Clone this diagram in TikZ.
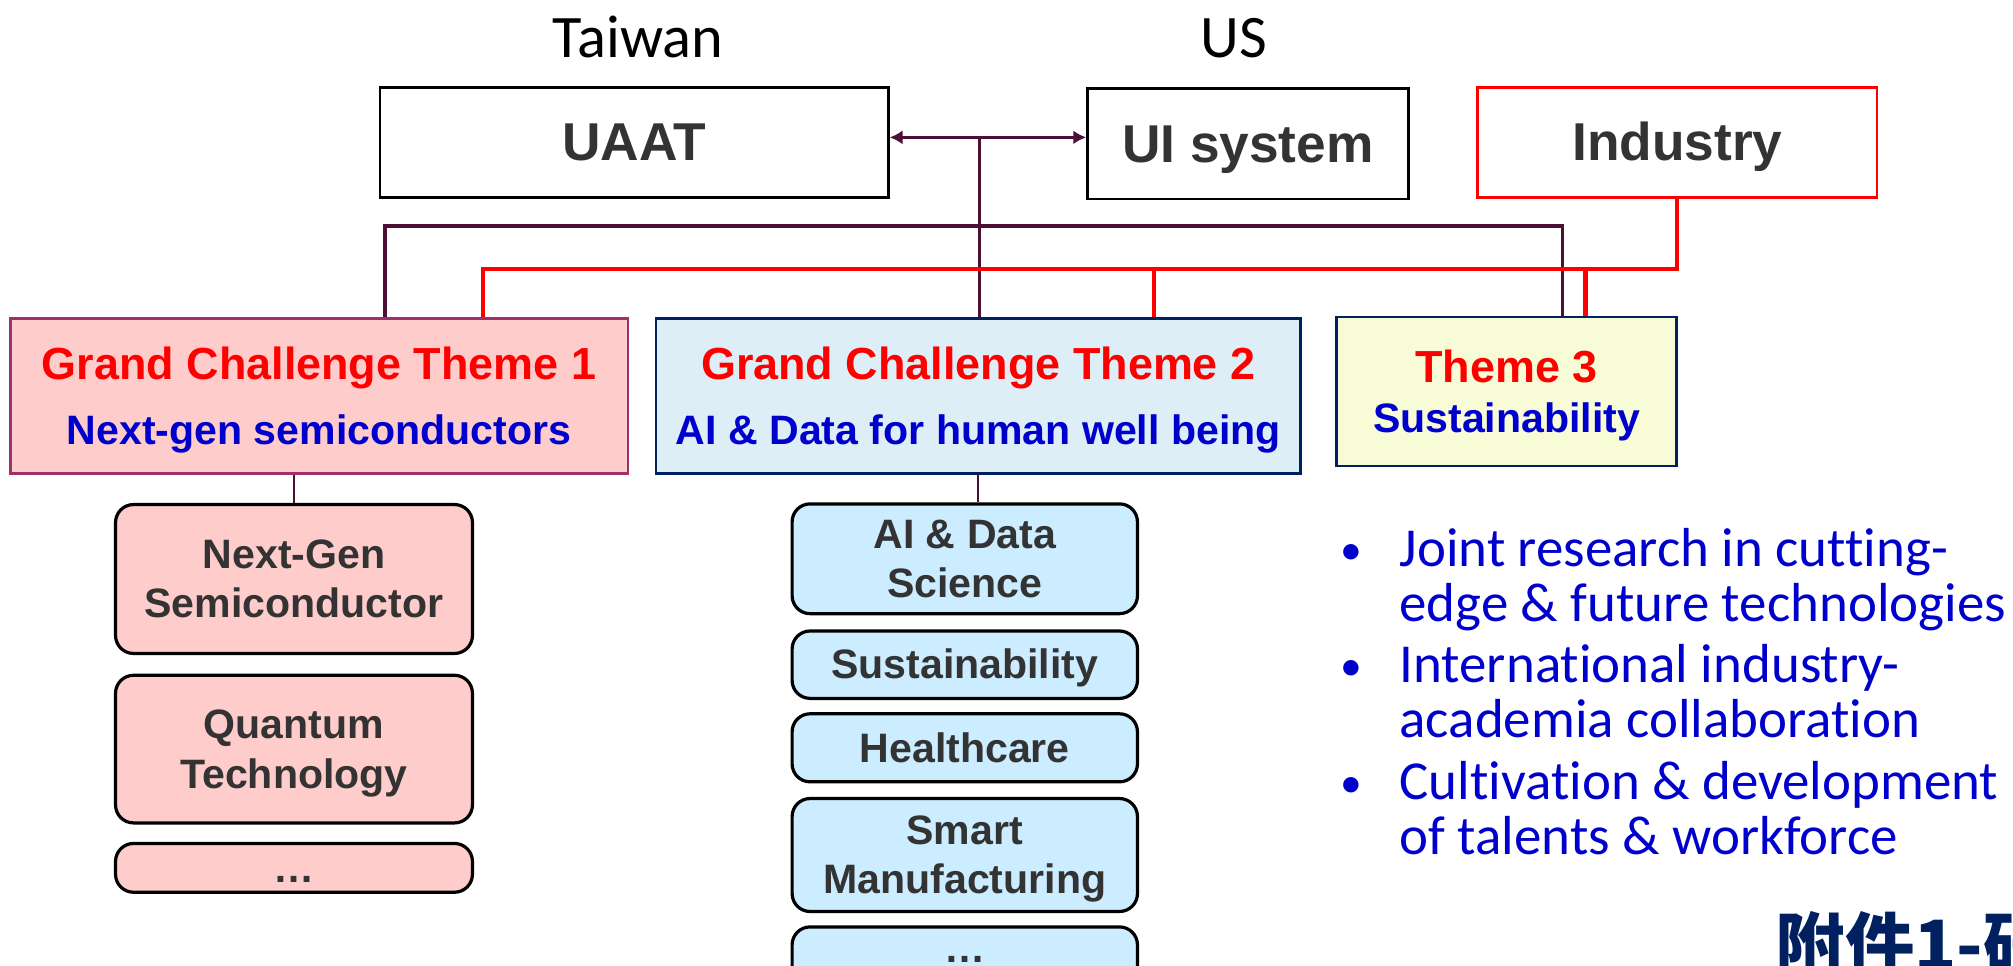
\documentclass[tikz,border=0pt]{standalone}
\usepackage{fontspec}
\setmainfont{Liberation Sans}
\newfontfamily\carl{Carlito}[Ligatures=NoCommon]
\newfontfamily\cjkfont{Noto Sans CJK TC}
\usetikzlibrary{arrows.meta}
\definecolor{conn}{RGB}{74,16,54}
\definecolor{txtgray}{RGB}{51,51,51}
\definecolor{tred}{RGB}{255,0,0}
\definecolor{tblue}{RGB}{0,0,204}
\definecolor{navy}{RGB}{0,32,96}
\definecolor{pinkfill}{RGB}{255,204,204}
\definecolor{pinkedge}{RGB}{158,48,110}
\definecolor{ttwofill}{RGB}{222,238,247}
\definecolor{tthreefill}{RGB}{248,252,214}
\definecolor{subblue}{RGB}{204,236,255}
\newcommand\mytwo[2]{\parbox[t]{262pt}{\centering #1\\#2}}
\newcommand\mybul{\makebox[46pt][l]{\raisebox{2pt}{\fontsize{34}{34}\selectfont •}}}
\tikzset{
  topbox/.style={draw=black, line width=2pt, fill=white, inner sep=0pt,
    font=\bfseries\fontsize{41.5}{41.5}\selectfont, text=txtgray,
    text height=37.5pt, text depth=8.8pt},
  themebox/.style={line width=2pt, inner sep=0pt,
    font=\bfseries\fontsize{32}{50}\selectfont, text=tblue,
    text height=31.7pt, text depth=56.8pt},
  subbox/.style={draw=black, line width=2.5pt, rounded corners=14pt, inner sep=0pt,
    font=\bfseries\fontsize{32}{38.5}\selectfont, text=txtgray,
    text height=29pt, text depth=6.8pt},
  twoline/.style={text depth=45.3pt},
  pinksub/.style={subbox, fill=pinkfill, minimum width=278pt},
  bluesub/.style={subbox, fill=subblue, minimum width=269pt},
  connline/.style={draw=conn, line width=2.8pt},
  thinconn/.style={draw=conn, line width=1.3pt},
  redline/.style={draw=tred, line width=3.2pt},
  bulletnode/.style={anchor=base west, inner sep=0pt, text=tblue,
    font=\carl\fontsize{42.8}{42.5}\selectfont},
  heading/.style={anchor=base, inner sep=0pt, font=\carl\fontsize{47}{47}\selectfont}
}
\begin{document}
\begin{tikzpicture}[x=1pt,y=-1pt]
\clip (0,0) rectangle (1568,752);
\path[use as bounding box] (0,0) rectangle (1568,752);

% headings
\node[heading] (tw) at (497,45) {Taiwan};
\node[heading] (us) at (961,45) {US};

% top boxes
\node[topbox, minimum width=396pt, minimum height=86pt] (uaat) at (494,111) {UAAT};
\node[topbox, minimum width=250pt, minimum height=86pt] (ui) at (972,112) {UI system};
\node[topbox, draw=tred, minimum width=311pt, minimum height=86pt] (ind) at (1306.5,111) {Industry};

% theme boxes
\node[themebox, draw=pinkedge, fill=pinkfill, minimum width=481pt, minimum height=121pt] (t1) at (248.5,308.5)
  {\parbox[t]{478pt}{\centering\leavevmode{\fontsize{35}{50}\selectfont\color{tred}Grand Challenge Theme 1}\\Next-gen semiconductors}};
\node[themebox, draw=navy, fill=ttwofill, minimum width=502pt, minimum height=121pt] (t2) at (762,308.5)
  {\parbox[t]{499pt}{\centering\leavevmode{\fontsize{35}{50}\selectfont\color{tred}Grand Challenge Theme 2}\\AI \& Data for human well being}};
\node[themebox, draw=navy, fill=tthreefill, minimum width=265pt, minimum height=116pt,
  font=\bfseries\fontsize{32}{39}\selectfont, text depth=45.8pt] (t3) at (1173.5,305)
  {\parbox[t]{262pt}{\centering\leavevmode{\fontsize{35}{39}\selectfont\color{tred}Theme 3}\\Sustainability}};

% connectors
\coordinate (hub) at (763,107);
\draw[connline, {Latex[length=10pt,width=11pt]}-{Latex[length=10pt,width=11pt]}] (uaat.east |- hub) -- (ui.west |- hub);
\draw[connline, line width=2.3pt] (hub) -- (hub |- t2.north);
\coordinate (busL) at (300,176);
\coordinate (busR) at (1217,176);
\draw[connline] (busL |- t1.north) -- (busL) -- (busR) -- (busR |- t3.north);

\coordinate (rL) at (376,209.5);
\coordinate (r2) at (899,209.5);
\coordinate (r3) at (1235,209.5);
\draw[redline] (ind.south) -- (ind.south |- rL) -- (rL) -- (rL |- t1.north);
\draw[redline] (r2) -- (r2 |- t2.north);
\draw[redline] (r3) -- (r3 |- t3.north);

% left sub boxes
\node[pinksub, twoline, minimum height=116pt] (s1) at (229,451) {\mytwo{Next-Gen}{Semiconductor}};
\node[pinksub, twoline, minimum height=115pt] (s2) at (229,583.5) {\mytwo{Quantum}{Technology}};
\node[pinksub, minimum height=38pt] (s3) at (229,676) {…};

% right sub boxes
\node[bluesub, twoline, minimum height=85.5pt] (b1) at (751.5,435.25) {\mytwo{AI \& Data}{Science}};
\node[bluesub, minimum height=52.5pt] (b2) at (751.5,517.75) {Sustainability};
\node[bluesub, minimum height=53pt] (b3) at (751.5,582.5) {Healthcare};
\node[bluesub, twoline, minimum height=88pt] (b4) at (751.5,666) {\mytwo{Smart}{Manufacturing}};
\node[bluesub, minimum height=50pt, text height=6pt, text depth=0pt] (b5) at (751.5,747) {…};

\draw[thinconn] (t1.south -| s1.north) -- (s1.north);
\draw[thinconn] (t2.south) -- (t2.south |- b1.north);

% bullets
\node[bulletnode] (p1) at (1044,441.5)
  {\parbox[t]{524pt}{\raggedright\mybul Joint research in cutting-\\\hspace*{46pt}edge \& future technologies}};
\node[bulletnode] (p2) at (1044,532)
  {\parbox[t]{524pt}{\raggedright\mybul International industry-\\\hspace*{46pt}academia collaboration}};
\node[bulletnode] (p3) at (1044,623)
  {\parbox[t]{524pt}{\raggedright\mybul Cultivation \& development\\\hspace*{46pt}of talents \& workforce}};

% bottom cjk
\node[anchor=base west, inner sep=0pt, text=navy, font=\cjkfont\bfseries\fontsize{54}{54}\selectfont] (fj) at (1383,756) {附件1-研};
\end{tikzpicture}
\end{document}
